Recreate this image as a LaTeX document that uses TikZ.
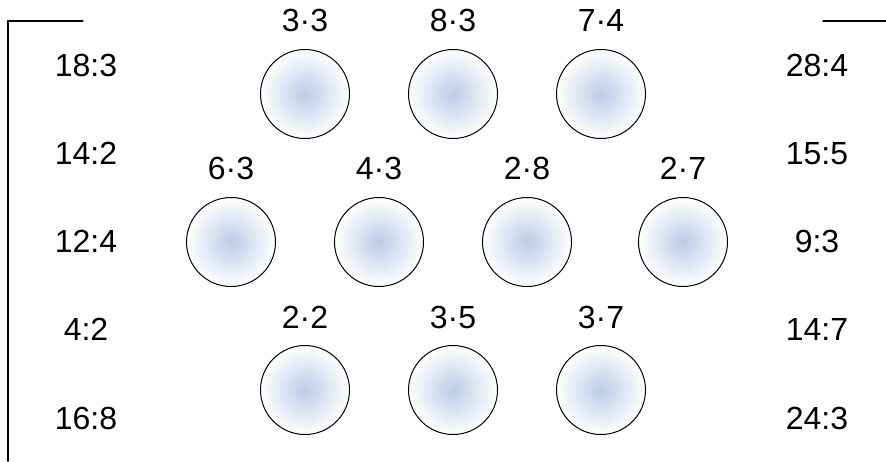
\documentclass[tikz,border=0pt]{standalone}
\usepackage{fontspec}
\setmainfont{Liberation Sans}
\definecolor{discblue}{RGB}{186,204,230}

\begin{document}
\begin{tikzpicture}[
			x=0.5pt, y=-0.5pt,
			every node/.style={font=\fontsize{16}{18}\selectfont},
			disc/.style={circle, draw, line width=0.5pt, minimum size=44.5pt, inner sep=0pt, inner color=discblue, outer color=white},
			line cap=round,
			line join=round
			]
			\useasboundingbox (0,0) rectangle (886,461);
			
			% Frame
			\coordinate (lt) at (8,21);
			\coordinate (lb) at (8,461);
			\coordinate (le) at (83,21);
			\coordinate (rs) at (823,21);
			\coordinate (re) at (886,21);
			\draw[line width=0.6pt] (lb) -- (lt) -- (le);
			\draw[line width=0.6pt] (rs) -- (re);
			
			% Left column
			\foreach \t [count=\i] in {18:3,14:2,12:4,4:2,16:8}
			\node (l\i) at (86,{65+88.25*(\i-1)}) {\t};
			
			% Right column
			\foreach \t [count=\i] in {28:4,15:5,9:3,14:7,24:3}
			\node (r\i) at (817,{65+88.25*(\i-1)}) {\t};
			
			% Top row
			\foreach \x/\t [count=\i] in {305/3·3,453/8·3,601/7·4}
			{
				\node[disc] (a\i) at (\x,94) {};
				\node (ta\i) at (\x,20) {\t};
			}
			
			% Middle row
			\foreach \x/\t [count=\i] in {231/6·3,379/4·3,527/2·8,683/2·7}
			{
				\node[disc] (b\i) at (\x,242) {};
				\node (tb\i) at (\x,168) {\t};
			}
			
			% Bottom row
			\foreach \x/\t [count=\i] in {305/2·2,453/3·5,601/3·7}
			{
				\node[disc] (c\i) at (\x,390) {};
				\node (tc\i) at (\x,317) {\t};
			}
		\end{tikzpicture}
\end{document}
